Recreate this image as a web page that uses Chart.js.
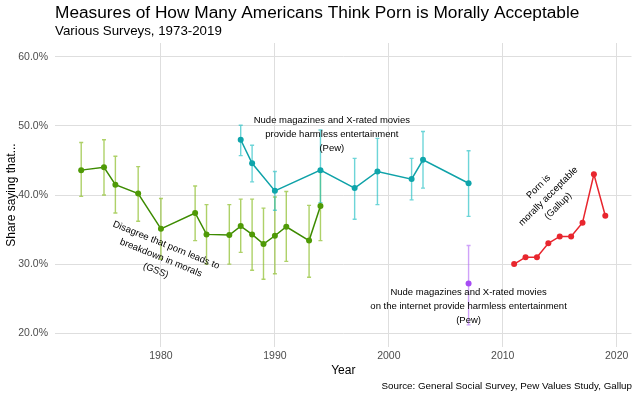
<!DOCTYPE html>
<html>
<head>
<meta charset="utf-8">
<script src="https://cdn.jsdelivr.net/npm/chart.js@4"></script>
<style>
  html, body { margin: 0; padding: 0; background: #fff; }
  #wrap { width: 640px; height: 400px; }
</style>
</head>
<body>
<div id="wrap"><canvas id="pornChart"></canvas></div>
<script>
// GSS: disagree that porn leads to breakdown in morals (%)
const gssYears = [1973, 1975, 1976, 1978, 1980, 1983, 1984, 1986, 1987, 1988, 1989, 1990, 1991, 1993, 1994];
const gssShare = [43.6, 44.0, 41.5, 40.2, 35.1, 37.4, 34.3, 34.2, 35.5, 34.3, 32.9, 34.1, 35.4, 33.4, 38.4];
const gssLow   = [39.8, 40.0, 37.4, 36.2, 30.7, 33.4, 30.0, 30.0, 31.7, 29.1, 27.8, 28.6, 30.4, 28.1, 33.4];
const gssHigh  = [47.6, 48.0, 45.6, 44.1, 39.5, 41.3, 38.6, 38.6, 39.4, 39.4, 38.1, 39.7, 40.5, 38.5, 43.4];

// Pew: nude magazines and X-rated movies provide harmless entertainment
const pewYears = [1987, 1988, 1990, 1994, 1997, 1999, 2002, 2003, 2007];
const pewShare = [48.0, 44.6, 40.6, 43.6, 41.0, 43.4, 42.3, 45.1, 41.7];
const pewLow   = [45.7, 41.9, 37.8, 38.9, 36.5, 38.6, 39.3, 41.0, 36.9];
const pewHigh  = [50.1, 47.2, 43.4, 49.4, 45.3, 48.2, 45.3, 49.2, 46.4];

// Pew: ... on the internet
const pewNetYears = [2007];
const pewNetShare = [27.2];
const pewNetLow   = [21.2];
const pewNetHigh  = [32.7];

// Gallup: porn is morally acceptable
const gallupYears = [2011, 2012, 2013, 2014, 2015, 2016, 2017, 2018, 2019];
const gallupShare = [30, 31, 31, 33, 34, 34, 36, 43, 37];

const yTicks = [20, 30, 40, 50, 60];
const xTicks = [1980, 1990, 2000, 2010, 2020];

const FONT = "'Liberation Sans', Arial, sans-serif";

const toPoints = (xs, ys) => xs.map((yr, i) => ({ x: yr, y: ys[i] }));

// labels placed in data space: [lines, year, share, angle in degrees]
const notes = [
  [["Disagree that porn leads to", "breakdown in morals", "(GSS)"], 1980, 30.9, 22],
  [["Nude magazines and X-rated movies", "provide harmless entertainment", "(Pew)"], 1995, 48.8, 0],
  [["Nude magazines and X-rated movies", "on the internet provide harmless entertainment", "(Pew)"], 2007, 23.9, 0],
  [["Porn is", "morally acceptable", "(Gallup)"], 2014, 39.8, -45]
];

const errorBars = {
  id: "errorBars",
  beforeDatasetsDraw(chart) {
    const { ctx, scales: { x, y } } = chart;
    chart.data.datasets.forEach(ds => {
      if (!ds.errLow) return;
      ctx.save();
      ctx.strokeStyle = ds.errColor;
      ctx.lineWidth = 1.4;
      ds.data.forEach((p, i) => {
        const px = x.getPixelForValue(p.x);
        const top = y.getPixelForValue(ds.errHigh[i]);
        const bot = y.getPixelForValue(ds.errLow[i]);
        ctx.beginPath();
        ctx.moveTo(px, top); ctx.lineTo(px, bot);
        ctx.moveTo(px - 2, top); ctx.lineTo(px + 2, top);
        ctx.moveTo(px - 2, bot); ctx.lineTo(px + 2, bot);
        ctx.stroke();
      });
      ctx.restore();
    });
  }
};

const textLayer = {
  id: "textLayer",
  afterDraw(chart) {
    const { ctx, scales: { x, y } } = chart;
    ctx.save();
    ctx.fillStyle = "#000";
    ctx.textBaseline = "middle";
    ctx.textAlign = "left";
    ctx.font = "17.3px " + FONT;
    ctx.fillText("Measures of How Many Americans Think Porn is Morally Acceptable", 55, 13);
    ctx.font = "13.3px " + FONT;
    ctx.fillText("Various Surveys, 1973-2019", 55, 31);
    ctx.textAlign = "right";
    ctx.font = "9.8px " + FONT;
    ctx.fillText("Source: General Social Survey, Pew Values Study, Gallup", 632, 386);

    ctx.textAlign = "center";
    ctx.font = "9.5px " + FONT;
    notes.forEach(([lines, yr, share, angle]) => {
      ctx.save();
      ctx.translate(x.getPixelForValue(yr), y.getPixelForValue(share));
      ctx.rotate(angle * Math.PI / 180);
      lines.forEach((ln, i) => ctx.fillText(ln, 0, (i - 1) * 13.8));
      ctx.restore();
    });
    ctx.restore();
  }
};

new Chart(document.getElementById("pornChart"), {
  type: "line",
  data: {
    datasets: [
      {
        data: toPoints(gssYears, gssShare),
        errLow: gssLow, errHigh: gssHigh, errColor: "rgba(140,190,40,0.7)",
        borderColor: "#3d8b00", backgroundColor: "#4f9a06",
        borderWidth: 1.5, pointRadius: 3, pointBorderWidth: 0
      },
      {
        data: toPoints(pewYears, pewShare),
        errLow: pewLow, errHigh: pewHigh, errColor: "rgba(30,190,195,0.65)",
        borderColor: "#0fa2a8", backgroundColor: "#0fa5ab",
        borderWidth: 1.5, pointRadius: 3, pointBorderWidth: 0
      },
      {
        data: toPoints(pewNetYears, pewNetShare),
        errLow: pewNetLow, errHigh: pewNetHigh, errColor: "rgba(175,100,245,0.6)",
        borderColor: "#a64bf4", backgroundColor: "#a64bf4",
        showLine: false, pointRadius: 3, pointBorderWidth: 0
      },
      {
        data: toPoints(gallupYears, gallupShare),
        borderColor: "#e8262e", backgroundColor: "#e8262e",
        borderWidth: 1.5, pointRadius: 3, pointBorderWidth: 0
      }
    ]
  },
  options: {
    responsive: true,
    maintainAspectRatio: false,
    animation: false,
    layout: { padding: { left: 0, right: 8.5, top: 43, bottom: 13 } },
    plugins: {
      legend: { display: false },
      tooltip: { enabled: false }
    },
    scales: {
      x: {
        type: "linear",
        min: 1970.7,
        max: 2021.3,
        afterBuildTicks: s => { s.ticks = xTicks.map(v => ({ value: v })); },
        afterFit: s => { s.height = 40; },
        border: { display: false },
        grid: { color: "#dedede", lineWidth: 1, drawTicks: false },
        ticks: { color: "#4d4d4d", font: { family: FONT, size: 10.5 }, padding: 3, callback: v => String(v) },
        title: { display: true, text: "Year", color: "#000", font: { family: FONT, size: 12 }, padding: { top: 0, bottom: 9 } }
      },
      y: {
        min: 18,
        max: 62,
        afterBuildTicks: s => { s.ticks = yTicks.map(v => ({ value: v })); },
        afterFit: s => { s.width = 55; },
        border: { display: false },
        grid: { color: "#dedede", lineWidth: 1, drawTicks: false },
        ticks: { color: "#4d4d4d", font: { family: FONT, size: 10.5 }, padding: 7, callback: v => v.toFixed(1) + "%" },
        title: { display: true, text: "Share saying that...", color: "#000", font: { family: FONT, size: 12 }, padding: { top: 4, bottom: 0 } }
      }
    }
  },
  plugins: [errorBars, textLayer]
});
</script>
</body>
</html>
